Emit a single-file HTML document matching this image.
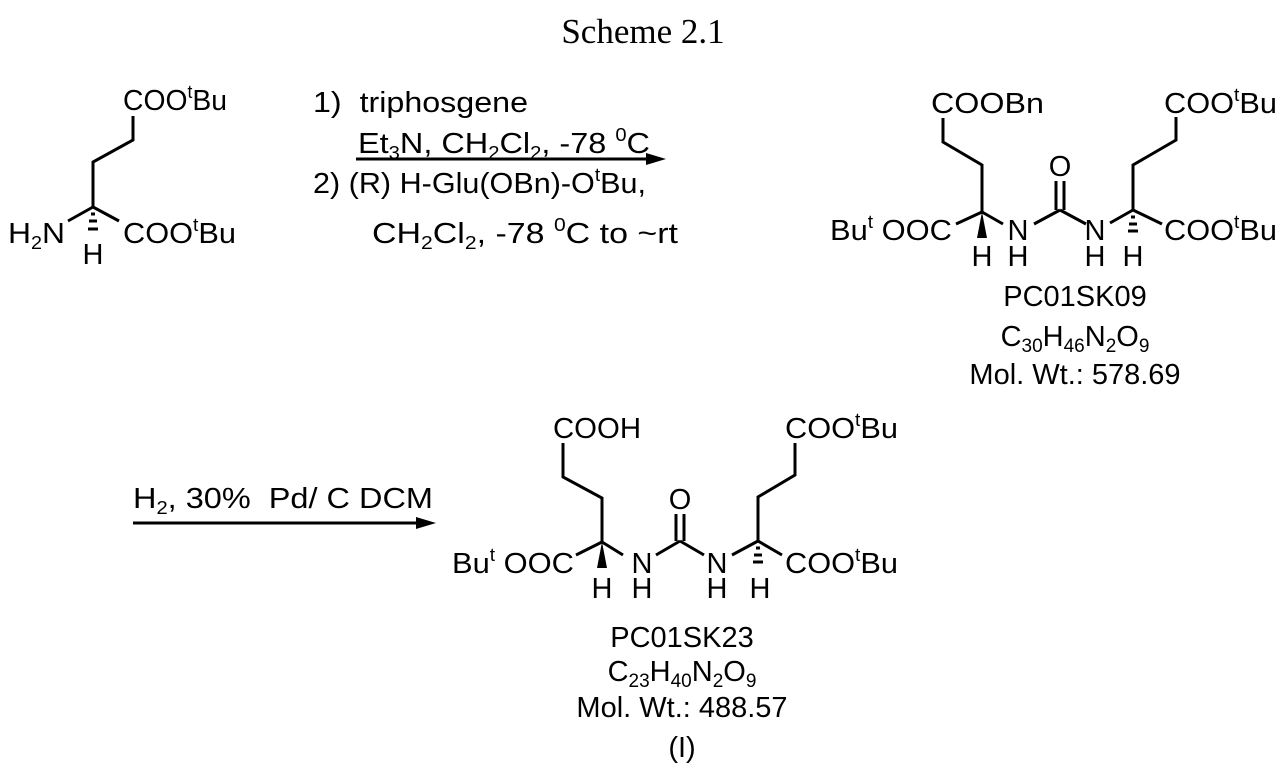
<!DOCTYPE html>
<html><head><meta charset="utf-8"><style>
html,body{margin:0;padding:0;background:#fff;}
svg{display:block;}
text{font-family:"Liberation Sans",Arial,sans-serif;font-size:29px;fill:#000;}
.t{font-family:"Liberation Serif",serif;font-size:35px;}
line,polyline{stroke:#000;stroke-width:3;fill:none;}
</style></head><body>
<svg width="1287" height="780" viewBox="0 0 1287 780" xmlns="http://www.w3.org/2000/svg">
<text class="t" x="643" y="43" text-anchor="middle">Scheme 2.1</text>

<!-- left molecule -->
<text x="123" y="110" textLength="104" lengthAdjust="spacingAndGlyphs">COO<tspan font-size="18" dy="-12">t</tspan><tspan dy="12">Bu</tspan></text>
<polyline points="133,116 133,140 93,162 93,207"/>
<line x1="93" y1="207" x2="68" y2="221"/>
<line x1="93" y1="207" x2="119" y2="221"/>
<line x1="91" y1="214" x2="95" y2="214" stroke-width="2"/>
<line x1="89" y1="221" x2="97" y2="221" stroke-width="2.5"/>
<line x1="88" y1="229" x2="98" y2="229" stroke-width="3"/>
<text x="8" y="243" textLength="57" lengthAdjust="spacingAndGlyphs">H<tspan font-size="18" dy="6">2</tspan><tspan dy="-6">N</tspan></text>
<text x="123" y="243" textLength="113" lengthAdjust="spacingAndGlyphs">COO<tspan font-size="18" dy="-12">t</tspan><tspan dy="12">Bu</tspan></text>
<text x="93" y="264" text-anchor="middle">H</text>

<!-- reagents 1 -->
<text x="313" y="112" xml:space="preserve" textLength="215" lengthAdjust="spacingAndGlyphs">1)  triphosgene</text>
<text x="358" y="153" textLength="292" lengthAdjust="spacingAndGlyphs">Et<tspan font-size="18" dy="6">3</tspan><tspan dy="-6">N, CH</tspan><tspan font-size="18" dy="6">2</tspan><tspan dy="-6">Cl</tspan><tspan font-size="18" dy="6">2</tspan><tspan dy="-6">, -78 </tspan><tspan font-size="18" dy="-12">0</tspan><tspan dy="12">C</tspan></text>
<line x1="356" y1="159" x2="650" y2="159"/>
<polygon points="666,159 646,153 646,165" fill="#000"/>
<text x="313" y="193" textLength="333" lengthAdjust="spacingAndGlyphs">2) (R) H-Glu(OBn)-O<tspan font-size="18" dy="-12">t</tspan><tspan dy="12">Bu,</tspan></text>
<text x="372" y="243" textLength="306" lengthAdjust="spacingAndGlyphs">CH<tspan font-size="18" dy="6">2</tspan><tspan dy="-6">Cl</tspan><tspan font-size="18" dy="6">2</tspan><tspan dy="-6">, -78 </tspan><tspan font-size="18" dy="-12">0</tspan><tspan dy="12">C to ~rt</tspan></text>

<!-- product 1 -->
<text x="931" y="113" textLength="113" lengthAdjust="spacingAndGlyphs">COOBn</text>
<polyline points="943,118 943,142 982,165 982,212"/>
<line x1="982" y1="212" x2="956" y2="224"/>
<polygon points="982,212 977,238 987,238" fill="#000"/>
<line x1="982" y1="212" x2="1003" y2="224"/>
<text x="1018" y="240" text-anchor="middle">N</text>
<text x="1018" y="266" text-anchor="middle">H</text>
<text x="982" y="266" text-anchor="middle">H</text>
<line x1="1034" y1="224" x2="1060" y2="210"/>
<line x1="1056" y1="210" x2="1056" y2="181"/>
<line x1="1064" y1="210" x2="1064" y2="181"/>
<text x="1060" y="176" text-anchor="middle">O</text>
<line x1="1060" y1="210" x2="1086" y2="224"/>
<text x="1095" y="240" text-anchor="middle">N</text>
<text x="1095" y="266" text-anchor="middle">H</text>
<line x1="1110" y1="223" x2="1133" y2="210"/>
<line x1="1131" y1="217" x2="1135" y2="217" stroke-width="2"/>
<line x1="1129" y1="224" x2="1137" y2="224" stroke-width="2.5"/>
<line x1="1128" y1="231" x2="1138" y2="231" stroke-width="3"/>
<text x="1133" y="266" text-anchor="middle">H</text>
<line x1="1133" y1="210" x2="1162" y2="224"/>
<text x="1164" y="240" textLength="113" lengthAdjust="spacingAndGlyphs">COO<tspan font-size="18" dy="-12">t</tspan><tspan dy="12">Bu</tspan></text>
<polyline points="1133,210 1133,165 1176,140 1176,117"/>
<text x="1164" y="113" textLength="113" lengthAdjust="spacingAndGlyphs">COO<tspan font-size="18" dy="-12">t</tspan><tspan dy="12">Bu</tspan></text>
<text x="830" y="240" textLength="122" lengthAdjust="spacingAndGlyphs">Bu<tspan font-size="18" dy="-12">t</tspan><tspan dy="12"> OOC</tspan></text>
<text x="1075" y="306" text-anchor="middle">PC01SK09</text>
<text x="1075" y="346" text-anchor="middle">C<tspan font-size="19" dy="6">30</tspan><tspan dy="-6">H</tspan><tspan font-size="19" dy="6">46</tspan><tspan dy="-6">N</tspan><tspan font-size="19" dy="6">2</tspan><tspan dy="-6">O</tspan><tspan font-size="19" dy="6">9</tspan></text>
<text x="1075" y="384" text-anchor="middle">Mol. Wt.: 578.69</text>

<!-- arrow 2 -->
<text x="133" y="508" xml:space="preserve" textLength="300" lengthAdjust="spacingAndGlyphs">H<tspan font-size="18" dy="6">2</tspan><tspan dy="-6">, 30%  Pd/ C DCM</tspan></text>
<line x1="133" y1="523" x2="420" y2="523"/>
<polygon points="436,523 416,517 416,529" fill="#000"/>

<!-- product 2 -->
<text x="553" y="438" textLength="88" lengthAdjust="spacingAndGlyphs">COOH</text>
<polyline points="563,443 563,477 602,498 602,542"/>
<line x1="602" y1="542" x2="576" y2="555"/>
<polygon points="602,542 597,568 607,568" fill="#000"/>
<line x1="602" y1="542" x2="623" y2="555"/>
<text x="642" y="573" text-anchor="middle">N</text>
<text x="642" y="598" text-anchor="middle">H</text>
<text x="602" y="598" text-anchor="middle">H</text>
<line x1="656" y1="555" x2="680" y2="541"/>
<line x1="676" y1="541" x2="676" y2="514"/>
<line x1="684" y1="541" x2="684" y2="514"/>
<text x="680" y="509" text-anchor="middle">O</text>
<line x1="680" y1="541" x2="704" y2="555"/>
<text x="717" y="573" text-anchor="middle">N</text>
<text x="717" y="598" text-anchor="middle">H</text>
<line x1="732" y1="555" x2="758" y2="541"/>
<line x1="756" y1="548" x2="760" y2="548" stroke-width="2"/>
<line x1="754" y1="555" x2="762" y2="555" stroke-width="2.5"/>
<line x1="753" y1="562" x2="763" y2="562" stroke-width="3"/>
<text x="760" y="598" text-anchor="middle">H</text>
<line x1="758" y1="541" x2="782" y2="555"/>
<text x="785" y="573" textLength="113" lengthAdjust="spacingAndGlyphs">COO<tspan font-size="18" dy="-12">t</tspan><tspan dy="12">Bu</tspan></text>
<polyline points="758,541 758,497 795,475 795,443"/>
<text x="785" y="438" textLength="113" lengthAdjust="spacingAndGlyphs">COO<tspan font-size="18" dy="-12">t</tspan><tspan dy="12">Bu</tspan></text>
<text x="452" y="573" textLength="122" lengthAdjust="spacingAndGlyphs">Bu<tspan font-size="18" dy="-12">t</tspan><tspan dy="12"> OOC</tspan></text>
<text x="682" y="647" text-anchor="middle">PC01SK23</text>
<text x="682" y="681" text-anchor="middle">C<tspan font-size="19" dy="6">23</tspan><tspan dy="-6">H</tspan><tspan font-size="19" dy="6">40</tspan><tspan dy="-6">N</tspan><tspan font-size="19" dy="6">2</tspan><tspan dy="-6">O</tspan><tspan font-size="19" dy="6">9</tspan></text>
<text x="682" y="717" text-anchor="middle">Mol. Wt.: 488.57</text>
<text x="682" y="757" text-anchor="middle">(I)</text>
</svg>
</body></html>
